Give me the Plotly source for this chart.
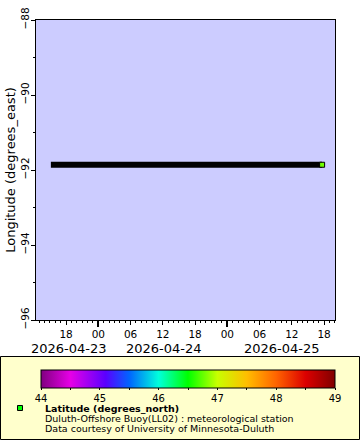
import plotly.graph_objects as go

# ---- data ----
times = ["2026-04-23 15:10", "2026-04-25 17:38"]
longitude = [-91.86, -91.86]
last_time = ["2026-04-25 17:38"]
last_lon = [-91.86]
last_lat = [46.78]

x_range = ["2026-04-23 12:24", "2026-04-25 20:02"]
y_range = [-96, -88]
y_ticks = [-96, -94, -92, -90, -88]
x_tickvals = ["2026-04-23 18:00", "2026-04-24 00:00", "2026-04-24 06:00", "2026-04-24 12:00",
              "2026-04-24 18:00", "2026-04-25 00:00", "2026-04-25 06:00", "2026-04-25 12:00",
              "2026-04-25 18:00"]
x_ticktext = ["18", "00", "06", "12", "18", "00", "06", "12", "18"]
day_ticks = ["2026-04-24 00:00", "2026-04-25 00:00"]
date_labels = ["2026-04-23", "2026-04-24", "2026-04-25"]
date_label_pos = [0.110, 0.428, 0.823]

cbar_vals = [44, 44.5, 45, 45.5, 46, 46.5, 47, 47.5, 48, 48.5, 49]
cbar_text = ["44", "", "45", "", "46", "", "47", "", "48", "", "49"]

colorscale = [
    [0.0, "rgb(128,0,128)"],
    [0.1, "rgb(230,0,230)"],
    [0.22, "rgb(90,0,255)"],
    [0.3, "rgb(0,100,255)"],
    [0.4, "rgb(0,255,220)"],
    [0.5, "rgb(0,255,0)"],
    [0.6, "rgb(200,255,0)"],
    [0.7, "rgb(255,190,0)"],
    [0.8, "rgb(255,100,0)"],
    [0.9, "rgb(220,0,0)"],
    [1.0, "rgb(128,0,0)"],
]

FONT = "DejaVu Sans"

fig = go.Figure()
fig.add_trace(go.Scatter(x=times, y=longitude, mode="lines",
                         line=dict(color="black", width=6), showlegend=False,
                         hoverinfo="skip"))
fig.add_trace(go.Scatter(
    x=last_time, y=last_lon, mode="markers", showlegend=False,
    marker=dict(symbol="square", size=5, color=last_lat, colorscale=colorscale,
                cmin=44, cmax=49, line=dict(color="black", width=1),
                colorbar=dict(orientation="h", xref="paper", yref="paper",
                              x=(188 - 36) / 299, xanchor="center", y=(320 - 369.5) / 300,
                              yanchor="top", lenmode="pixels", len=294, thickness=18,
                              xpad=0, ypad=0, outlinecolor="black", outlinewidth=1,
                              tickmode="array", tickvals=cbar_vals, ticktext=cbar_text,
                              ticks="outside", ticklen=2, tickcolor="black",
                              tickfont=dict(family=FONT, size=10, color="black"))),
))
# invisible trace to drive the overlay axis with long midnight ticks
fig.add_trace(go.Scatter(x=x_range, y=[None, None], xaxis="x2", showlegend=False,
                         hoverinfo="skip"))

fig.update_layout(
    width=360, height=440,
    margin=dict(l=36, r=25, t=20, b=120, autoexpand=False),
    paper_bgcolor="white", plot_bgcolor="#ccccff",
    font=dict(family=FONT, color="black"),
    xaxis=dict(range=x_range, type="date", tickmode="array", tickvals=x_tickvals,
               ticktext=x_ticktext, ticks="outside", ticklen=4, tickcolor="black",
               showgrid=False, zeroline=False, showline=True, linecolor="black",
               linewidth=1, mirror=True, tickfont=dict(size=10.5),
               minor=dict(ticks="outside", ticklen=2, dtick=3600000, tickcolor="black",
                          tick0="2026-04-23 00:00", showgrid=False)),
    xaxis2=dict(range=x_range, type="date", overlaying="x", anchor="y", side="bottom",
                tickmode="array", tickvals=day_ticks, ticks="outside", ticklen=6,
                tickwidth=2, tickcolor="black", showticklabels=False, showgrid=False,
                zeroline=False, showline=False),
    yaxis=dict(range=y_range, tickmode="array", tickvals=y_ticks, ticks="outside",
               ticklen=4, tickcolor="black", tickangle=-90, showgrid=False,
               zeroline=False, showline=True, linecolor="black", linewidth=1, mirror=True,
               tickfont=dict(size=10.5), ticklabelstandoff=-2,
               title=dict(text="Longitude (degrees_east)", font=dict(size=13), standoff=0),
               minor=dict(ticks="outside", ticklen=2, dtick=1, tickcolor="black",
                          showgrid=False)),
    showlegend=False,
)

# legend box
fig.add_shape(type="rect", xref="paper", yref="paper",
              x0=(0.5 - 36) / 299, x1=(359.5 - 36) / 299,
              y0=(320 - 356.5) / 300, y1=(320 - 439.5) / 300,
              line=dict(color="black", width=1), fillcolor="#ffffcc", layer="below")
# legend symbol
fig.add_shape(type="rect", xref="paper", yref="paper",
              x0=(17.5 - 36) / 299, x1=(22.5 - 36) / 299,
              y0=(320 - 405.5) / 300, y1=(320 - 410.5) / 300,
              line=dict(color="black", width=1), fillcolor="#00ff00", layer="above")

legend_lines = [("<b>Latitude (degrees_north)</b>", 408.5),
                ("Duluth-Offshore Buoy(LL02) : meteorological station", 418.5),
                ("Data courtesy of University of Minnesota-Duluth", 428.5)]
for txt, py in legend_lines:
    fig.add_annotation(text=txt, xref="paper", yref="paper", x=(43 - 36) / 299,
                       y=(320 - py) / 300, xanchor="left", yanchor="middle",
                       showarrow=False, font=dict(family=FONT, size=9.5, color="black"))

for lbl, px in zip(date_labels, date_label_pos):
    fig.add_annotation(text=lbl, xref="paper", yref="paper", x=px, y=(320 - 348) / 300,
                       xanchor="center", yanchor="middle", showarrow=False,
                       font=dict(family=FONT, size=13, color="black"))

fig.write_html("out.html", config={"displayModeBar": False},
               post_script="document.body.style.margin='0';document.body.style.padding='0';")
